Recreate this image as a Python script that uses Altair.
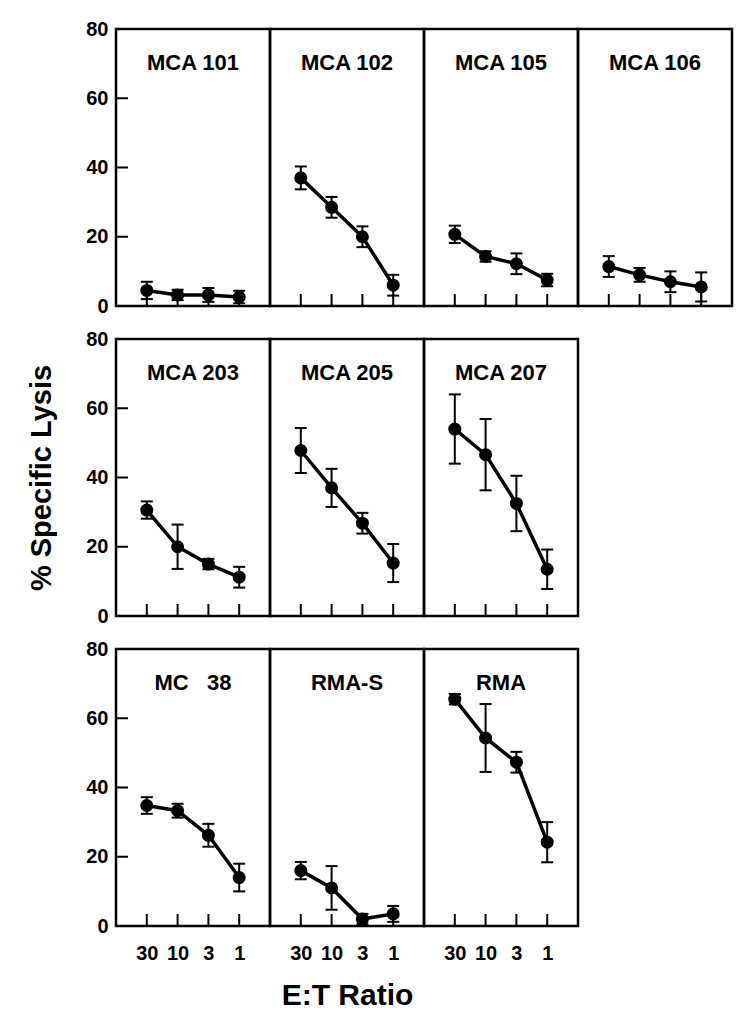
import altair as alt
import pandas as pd

# E:T ratios (x categories)
ratios = ["30", "10", "3", "1"]
y_tick_values = [20, 40, 60]

# % specific lysis and error (half-range) per target
mca101 = [4.5, 3.2, 3.2, 2.6]
mca101_err = [2.5, 1.5, 2.0, 1.8]
mca102 = [37.0, 28.5, 20.0, 6.0]
mca102_err = [3.3, 3.0, 3.0, 3.0]
mca105 = [20.7, 14.3, 12.2, 7.5]
mca105_err = [2.5, 1.5, 3.0, 1.8]
mca106 = [11.4, 9.0, 7.0, 5.5]
mca106_err = [3.0, 2.0, 3.0, 4.2]
mca203 = [30.6, 20.0, 15.0, 11.2]
mca203_err = [2.5, 6.4, 1.5, 3.0]
mca205 = [47.8, 37.0, 26.8, 15.3]
mca205_err = [6.5, 5.5, 3.0, 5.5]
mca207 = [54.0, 46.6, 32.5, 13.5]
mca207_err = [10.0, 10.3, 8.0, 5.7]
mc38 = [34.8, 33.3, 26.2, 14.0]
mc38_err = [2.4, 2.0, 3.3, 4.0]
rmas = [16.0, 11.0, 2.0, 3.5]
rmas_err = [2.5, 6.3, 1.5, 2.3]
rma = [65.5, 54.3, 47.3, 24.2]
rma_err = [1.5, 9.8, 3.0, 5.8]

panel_names = ["MCA 101", "MCA 102", "MCA 105", "MCA 106",
               "MCA 203", "MCA 205", "MCA 207",
               "MC\u00a0\u00a0 38", "RMA-S", "RMA"]
panel_values = [mca101, mca102, mca105, mca106, mca203, mca205, mca207, mc38, rmas, rma]
panel_errors = [mca101_err, mca102_err, mca105_err, mca106_err, mca203_err,
                mca205_err, mca207_err, mc38_err, rmas_err, rma_err]
row_layout = [[0, 1, 2, 3], [4, 5, 6], [7, 8, 9]]

FONT = "Liberation Sans"
W, H = 154, 277
TICK_LEN = 12


def y_axis(title_opacity):
    return alt.Axis(values=[0, 20, 40, 60, 80], ticks=False, domain=False, grid=False,
                    labelFont=FONT, labelFontSize=20, labelFontWeight="bold",
                    labelColor="black", labelPadding=8,
                    title="% Specific Lysis", titleFont=FONT, titleFontSize=29,
                    titleFontWeight="bold", titleColor="black", titlePadding=29,
                    titleOpacity=title_opacity)


def x_axis(title):
    kw = dict(ticks=False, domain=False, grid=False, labelAngle=0,
              labelFont=FONT, labelFontSize=20, labelFontWeight="bold",
              labelColor="black", labelPadding=17)
    if title:
        kw.update(title=title, titleFont=FONT, titleFontSize=30, titleFontWeight="bold",
                  titleColor="black", titlePadding=17)
    else:
        kw.update(title=None)
    return alt.Axis(**kw)


def panel(i, first, bottom, ytitle_opacity, xtitle):
    vals = panel_values[i]
    errs = panel_errors[i]
    df = pd.DataFrame({
        "ratio": ratios,
        "lysis": vals,
        "lo": [v - e for v, e in zip(vals, errs)],
        "hi": [v + e for v, e in zip(vals, errs)],
    })
    yscale = alt.Scale(domain=[0, 80], nice=False)
    xscale = alt.Scale(type="point", domain=ratios, padding=1)
    yax = y_axis(ytitle_opacity) if first else None
    xax = x_axis(xtitle) if bottom else None

    def Y(field):
        return alt.Y(field, type="quantitative", scale=yscale, axis=yax)

    X = alt.X("ratio:N", scale=xscale, axis=xax, sort=ratios)

    base = alt.Chart(df).encode(x=X, y=Y("lysis"))

    xticks = base.mark_rule(color="black", strokeWidth=2).encode(
        y=alt.value(H), y2=alt.value(H - TICK_LEN))
    err_rule = base.mark_rule(color="black", strokeWidth=2).encode(
        y=Y("lo"), y2=alt.Y2("hi"))
    cap_lo = base.mark_tick(color="black", size=12, thickness=2, opacity=1).encode(y=Y("lo"))
    cap_hi = base.mark_tick(color="black", size=12, thickness=2, opacity=1).encode(y=Y("hi"))
    line = base.mark_line(color="black", strokeWidth=3.5)
    pts = base.mark_circle(color="black", size=170, opacity=1)
    label = alt.Chart(pd.DataFrame({"name": [panel_names[i]]})).mark_text(
        font=FONT, fontSize=22, fontWeight="bold", color="black", baseline="middle"
    ).encode(text="name:N", x=alt.value(W / 2), y=alt.value(34))

    layers = [xticks, err_rule, cap_lo, cap_hi, line, pts, label]
    if first:
        yticks = alt.Chart(pd.DataFrame({"v": y_tick_values})).mark_rule(
            color="black", strokeWidth=2
        ).encode(y=alt.Y("v:Q", scale=yscale, axis=yax), x=alt.value(0), x2=alt.value(TICK_LEN))
        layers = [yticks] + layers
    return alt.layer(*layers).properties(width=W, height=H)


rows = []
for r, idxs in enumerate(row_layout):
    panels = []
    for k, i in enumerate(idxs):
        first = k == 0
        bottom = r == len(row_layout) - 1
        xtitle = "E:T Ratio" if (bottom and k == 1) else None
        panels.append(panel(i, first, bottom, 1 if r == 1 else 0, xtitle))
    rows.append(alt.hconcat(*panels, spacing=0, bounds="flush"))

chart = alt.vconcat(*rows, spacing=9).properties(
    padding={"left": 18, "top": 9, "right": 2, "bottom": 0},
    background="white",
).configure_view(stroke="black", strokeWidth=2.5)

chart.save("out.html", embed_options={"renderer": "svg", "actions": False})
